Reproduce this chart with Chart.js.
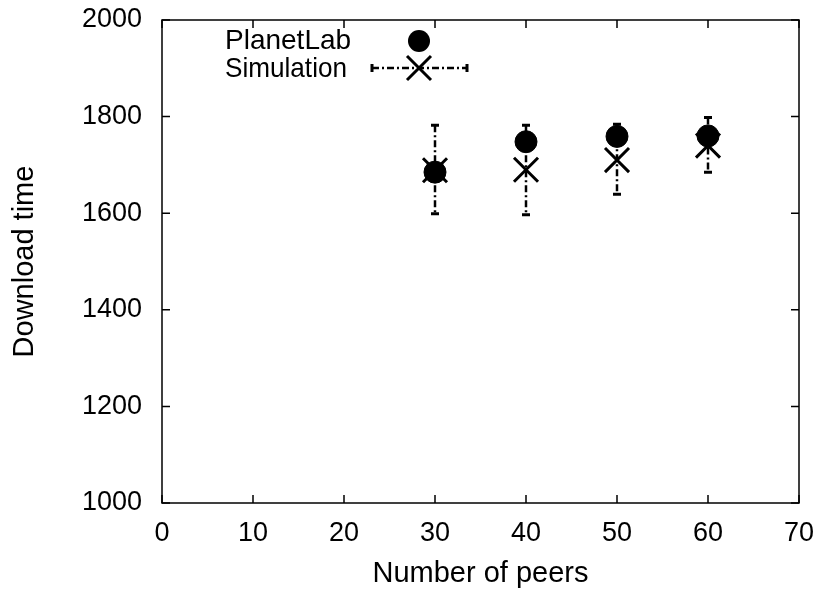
<!DOCTYPE html>
<html>
<head>
<meta charset="utf-8">
<script src="https://cdn.jsdelivr.net/npm/chart.js@4.4.0/dist/chart.umd.min.js"></script>
<style>
  body { margin: 0; background: #fff; }
  #wrap { width: 820px; height: 590px; }
</style>
</head>
<body>
<div id="wrap"><canvas id="peerChart" width="820" height="590"></canvas></div>
<script>
const peers = [30, 40, 50, 60];
const planetLab = [1685, 1748, 1759, 1760];
const simulation = [1689, 1690, 1710, 1740];
const simLow = [1599, 1597, 1639, 1685];
const simHigh = [1782, 1782, 1784, 1798];
const xTicks = [0, 10, 20, 30, 40, 50, 60, 70];
const yTicks = [1000, 1200, 1400, 1600, 1800, 2000];

const FONT = "'Liberation Sans', Arial, sans-serif";
const DASHDOT = [7, 3, 2, 3];

function drawCross(ctx, x, y, h) {
  ctx.beginPath();
  ctx.moveTo(x - h, y - h); ctx.lineTo(x + h, y + h);
  ctx.moveTo(x - h, y + h); ctx.lineTo(x + h, y - h);
  ctx.stroke();
}

// error bars of the simulation series, dash-dot with small caps
const errorBars = {
  id: "errorBars",
  beforeDatasetsDraw(chart) {
    const { ctx, scales: { x, y } } = chart;
    ctx.save();
    ctx.strokeStyle = "#000";
    peers.forEach((p, i) => {
      const px = x.getPixelForValue(p);
      const top = y.getPixelForValue(simHigh[i]);
      const bot = y.getPixelForValue(simLow[i]);
      ctx.lineWidth = 2.5;
      ctx.setLineDash(DASHDOT);
      ctx.beginPath();
      ctx.moveTo(px, top); ctx.lineTo(px, bot);
      ctx.stroke();
      ctx.setLineDash([]);
      ctx.lineWidth = 3;
      ctx.beginPath();
      ctx.moveTo(px - 4, top); ctx.lineTo(px + 4, top);
      ctx.moveTo(px - 4, bot); ctx.lineTo(px + 4, bot);
      ctx.stroke();
    });
    ctx.restore();
  }
};

// gnuplot-style frame with inward ticks on all sides, plus the key
const frame = {
  id: "frame",
  afterDraw(chart) {
    const { ctx, chartArea: a, scales: { x, y } } = chart;
    ctx.save();
    ctx.strokeStyle = "#000";
    ctx.lineWidth = 1.5;
    ctx.strokeRect(a.left, a.top, a.right - a.left, a.bottom - a.top);
    ctx.beginPath();
    xTicks.forEach(v => {
      const px = x.getPixelForValue(v);
      ctx.moveTo(px, a.bottom); ctx.lineTo(px, a.bottom - 8);
      ctx.moveTo(px, a.top); ctx.lineTo(px, a.top + 8);
    });
    yTicks.forEach(v => {
      const py = y.getPixelForValue(v);
      ctx.moveTo(a.left, py); ctx.lineTo(a.left + 8, py);
      ctx.moveTo(a.right, py); ctx.lineTo(a.right - 8, py);
    });
    ctx.stroke();

    // key
    ctx.fillStyle = "#000";
    ctx.font = "28px " + FONT;
    ctx.textAlign = "left";
    ctx.textBaseline = "middle";
    ctx.fillText("PlanetLab", 225, 41, 130);
    ctx.fillText("Simulation", 225, 69, 122);
    ctx.beginPath();
    ctx.arc(419, 41, 11, 0, Math.PI * 2);
    ctx.fill();
    ctx.lineWidth = 2.5;
    ctx.setLineDash(DASHDOT);
    ctx.beginPath();
    ctx.moveTo(372, 68); ctx.lineTo(467, 68);
    ctx.stroke();
    ctx.setLineDash([]);
    ctx.lineWidth = 3;
    ctx.beginPath();
    ctx.moveTo(372, 64); ctx.lineTo(372, 72);
    ctx.moveTo(467, 64); ctx.lineTo(467, 72);
    ctx.stroke();
    drawCross(ctx, 419, 68, 12);
    ctx.restore();
  }
};

new Chart(document.getElementById("peerChart"), {
  type: "scatter",
  data: {
    datasets: [
      {
        label: "PlanetLab",
        data: peers.map((p, i) => ({ x: p, y: planetLab[i] })),
        pointStyle: "circle",
        pointRadius: 11,
        pointBackgroundColor: "#000",
        pointBorderColor: "#000",
        pointBorderWidth: 1
      },
      {
        label: "Simulation",
        data: peers.map((p, i) => ({ x: p, y: simulation[i] })),
        pointStyle: "crossRot",
        pointRadius: 17,
        pointBorderColor: "#000",
        pointBorderWidth: 3
      }
    ]
  },
  options: {
    responsive: false,
    animation: false,
    layout: { padding: { top: 18, right: 21, left: 0, bottom: 0 } },
    plugins: {
      legend: { display: false },
      tooltip: { enabled: false }
    },
    scales: {
      x: {
        type: "linear",
        min: 0,
        max: 70,
        afterFit: s => { s.height = 87; s.paddingLeft = 0; s.paddingRight = 0; },
        afterBuildTicks: s => { s.ticks = xTicks.map(v => ({ value: v })); },
        grid: { display: false, drawTicks: false },
        border: { display: false },
        ticks: { color: "#000", padding: 14, font: { family: FONT, size: 27 }, callback: v => String(v) },
        title: {
          display: true,
          text: "Number of peers",
          color: "#000",
          padding: { top: 0, bottom: 0 },
          font: { family: FONT, size: 29, lineHeight: 1.1 }
        }
      },
      y: {
        min: 1000,
        max: 2000,
        afterFit: s => { s.width = 162; s.paddingTop = 0; s.paddingBottom = 0; },
        afterBuildTicks: s => { s.ticks = yTicks.map(v => ({ value: v })); },
        grid: { display: false, drawTicks: false },
        border: { display: false },
        ticks: { color: "#000", padding: 20, font: { family: FONT, size: 27 }, callback: v => String(v) },
        title: {
          display: true,
          text: "Download time",
          color: "#000",
          padding: { top: 9, bottom: 0 },
          font: { family: FONT, size: 29, lineHeight: 1.1 }
        }
      }
    }
  },
  plugins: [errorBars, frame]
});
</script>
</body>
</html>
